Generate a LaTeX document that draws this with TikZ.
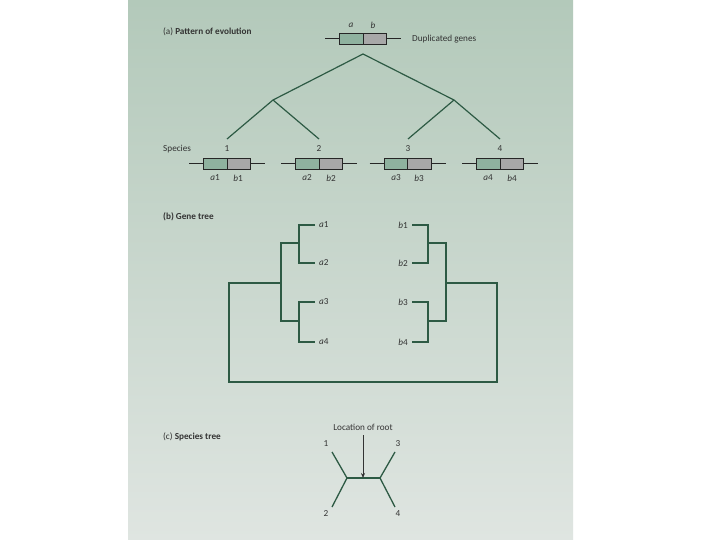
\documentclass[tikz,border=0pt]{standalone}
\usepackage{fontspec}
\setmainfont{Carlito}
\usetikzlibrary{arrows.meta}
\definecolor{ln}{HTML}{2D5A44}
\definecolor{gfill}{HTML}{8FB29F}
\definecolor{bfill}{HTML}{A8A8A8}
\definecolor{txt}{HTML}{333333}
\definecolor{bgtop}{HTML}{B3C9BA}
\definecolor{bgbot}{HTML}{DFE5E1}
\begin{document}
\begin{tikzpicture}[x=1pt,y=-1pt,
  tree/.style={draw=ln, line width=1.3pt, line join=miter},
  lbl/.style={font=\fontsize{9.2}{11}\selectfont, text=txt, inner sep=0pt},
  head/.style={lbl, anchor=west},
  genebox/.pic={
    \draw[line width=0.9pt, black!85] (-38,0) -- (38,0);
    \filldraw[fill=gfill, draw=black!85, line width=0.9pt] (-23.5,-5.5) rectangle (0,5.5);
    \filldraw[fill=bfill, draw=black!85, line width=0.9pt] (0,-5.5) rectangle (23.5,5.5);
  }]
\useasboundingbox (0,0) rectangle (720,540);
\fill[white] (0,0) rectangle (720,540);
\shade[top color=bgtop, bottom color=bgbot] (128,0) rectangle (573,540);

% ---------- (a) Pattern of evolution ----------
\node[head] (ha) at (163,32) {(a) \textbf{Pattern of evolution}};
\pic at (363,38.5) {genebox};
\node[lbl] (ga) at (351,25) {\textit{a}};
\node[lbl] (gb) at (373,25) {\textit{b}};
\node[head] (dup) at (412,39) {Duplicated genes};

\coordinate (rt) at (363,54);
\coordinate (iL) at (273,100);
\coordinate (iR) at (454,100);
\coordinate (s1) at (227,139);
\coordinate (s2) at (319,139);
\coordinate (s3) at (408,139);
\coordinate (s4) at (500,139);
\draw[tree, line width=1.2pt] (s1) -- (iL) -- (rt) -- (iR) -- (s4);
\draw[tree, line width=1.2pt] (iL) -- (s2);
\draw[tree, line width=1.2pt] (iR) -- (s3);

\node[head] (sp) at (163,149) {Species};
\node[lbl] (n1) at (227,149) {1};
\node[lbl] (n2) at (319,149) {2};
\node[lbl] (n3) at (408,149) {3};
\node[lbl] (n4) at (500,149) {4};

\pic at (227,163.5) {genebox};
\pic at (319,163.5) {genebox};
\pic at (407.5,163.5) {genebox};
\pic at (500,163.5) {genebox};
\node[lbl] (la1) at (215,178) {\textit{a}1};
\node[lbl] (lb1) at (238,178) {\textit{b}1};
\node[lbl] (la2) at (307,178) {\textit{a}2};
\node[lbl] (lb2) at (331,178) {\textit{b}2};
\node[lbl] (la3) at (396,178) {\textit{a}3};
\node[lbl] (lb3) at (419,178) {\textit{b}3};
\node[lbl] (la4) at (488,178) {\textit{a}4};
\node[lbl] (lb4) at (512,178) {\textit{b}4};

% ---------- (b) Gene tree ----------
\node[head] (hb) at (163,217) {\textbf{(b) Gene tree}};
\node[lbl, anchor=west] (a1) at (319,225) {\textit{a}1};
\node[lbl, anchor=west] (a2) at (319,263) {\textit{a}2};
\node[lbl, anchor=west] (a3) at (319,302) {\textit{a}3};
\node[lbl, anchor=west] (a4) at (319,342) {\textit{a}4};
\node[lbl, anchor=east] (b1) at (408,225) {\textit{b}1};
\node[lbl, anchor=east] (b2) at (408,263) {\textit{b}2};
\node[lbl, anchor=east] (b3) at (408,302) {\textit{b}3};
\node[lbl, anchor=east] (b4) at (408,342) {\textit{b}4};

\draw[tree] ([xshift=-4pt]a1.west) -- (299,225) -- (299,263) -- ([xshift=-4pt]a2.west);
\draw[tree] ([xshift=-4pt]a3.west) -- (299,302) -- (299,342) -- ([xshift=-4pt]a4.west);
\draw[tree] (299,243) -- (281,243) -- (281,321) -- (299,321);
\draw[tree] ([xshift=4pt]b1.east) -- (428,225) -- (428,263) -- ([xshift=4pt]b2.east);
\draw[tree] ([xshift=4pt]b3.east) -- (428,302) -- (428,342) -- ([xshift=4pt]b4.east);
\draw[tree] (428,243) -- (446,243) -- (446,321) -- (428,321);
\draw[tree] (281,283) -- (229,283) -- (229,382) -- (497,382) -- (497,283) -- (446,283);

% ---------- (c) Species tree ----------
\node[head] (hc) at (163,437) {(c) \textbf{Species tree}};
\node[lbl] (loc) at (363,427) {Location of root};
\coordinate (jL) at (347,478);
\coordinate (jR) at (380,478);
\coordinate (e1) at (332,452);
\coordinate (e2) at (332,507);
\coordinate (e3) at (395,452);
\coordinate (e4) at (395,507);
\coordinate (ap) at (363,478);
\draw[tree] (e1) -- (jL) -- (e2);
\draw[tree] (e3) -- (jR) -- (e4);
\draw[tree] (jL) -- (jR);
\draw[black!80, line width=0.7pt, -{Stealth[length=5pt,width=4pt]}] ([yshift=-5pt]loc.south) -- (ap);
\node[lbl] (t1) at (326,444) {1};
\node[lbl] (t3) at (398,444) {3};
\node[lbl] (t2) at (326,514) {2};
\node[lbl] (t4) at (398,514) {4};
\end{tikzpicture}
\end{document}
